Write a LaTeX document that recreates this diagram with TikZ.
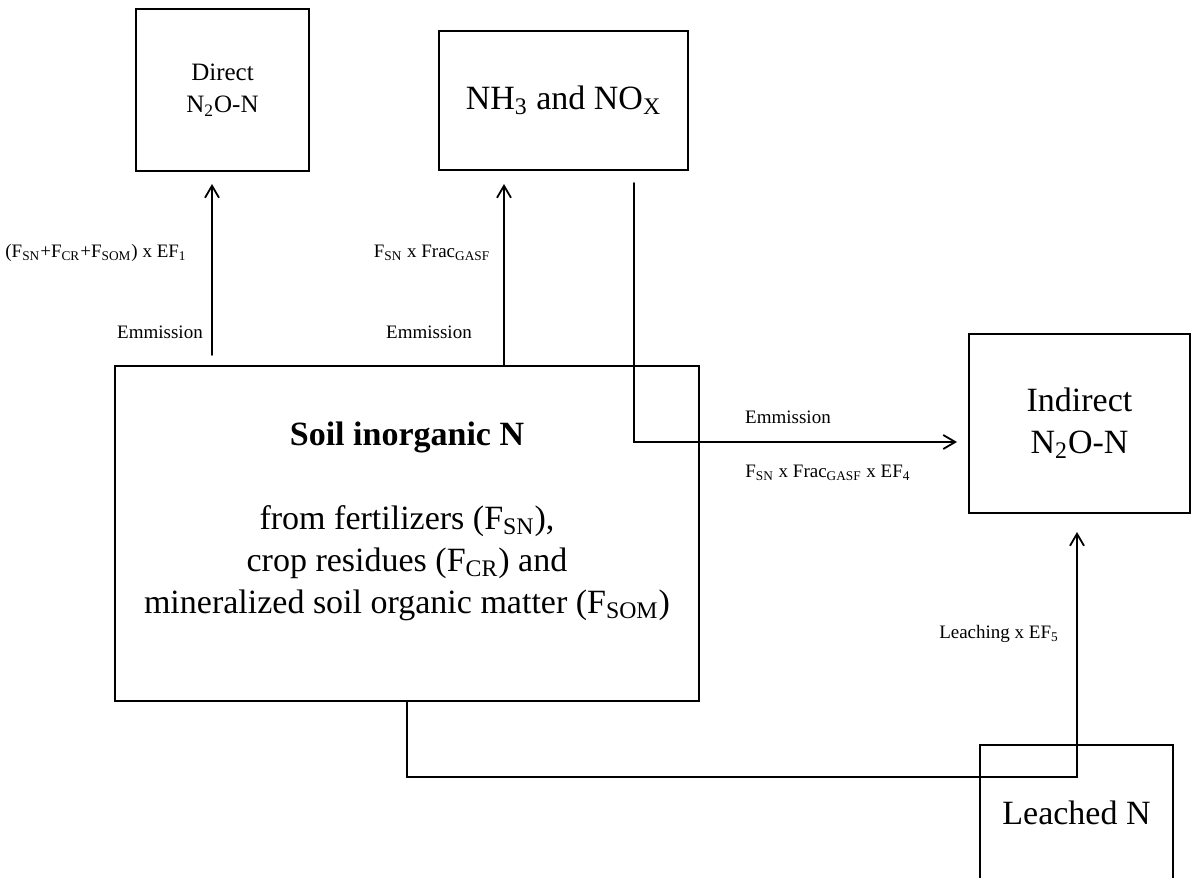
\documentclass[tikz,border=0pt]{standalone}
\usepackage{fontspec}
\setmainfont{Liberation Serif}
\usetikzlibrary{arrows.meta,calc}

\begin{document}
\begin{tikzpicture}[line cap=round,line join=miter,x=0.5pt,y=-0.5pt,
        >={Straight Barb[length=6pt,width=7pt]},
        box/.style={draw,line width=1pt,inner sep=0pt,outer sep=0pt},
        flow/.style={->,line width=0.9pt},
        big/.style={font=\fontsize{17}{21}\selectfont,align=center},
        small/.style={font=\fontsize{9.5}{11}\selectfont,inner sep=0pt}]
                \clip (0,0) rectangle (1191,878);
                % boxes
                \node[box,minimum width=86.5pt,minimum height=81pt,align=center,font=\fontsize{12.5}{16}\selectfont] (direct) at (222.5,90) {Direct\\N\textsubscript{2}O-N};
                \node[box,big,minimum width=124.5pt,minimum height=69.5pt] (nh3) at (563.5,100.5) {NH\textsubscript{3} and NO\textsubscript{X}};
                \node[box,minimum width=292pt,minimum height=167.5pt] (soil) at (407,533.5) {};
                \node[big] (soiltext) at (407,521.5) {\textbf{Soil inorganic N}\\[21pt]from fertilizers (F\textsubscript{SN}),\\crop residues (F\textsubscript{CR}) and\\mineralized soil organic matter (F\textsubscript{SOM})};
                \node[box,big,minimum width=110.5pt,minimum height=89.5pt] (indirect) at (1079.5,423.5) {Indirect\\N\textsubscript{2}O-N};
                \node[box,big,minimum width=96.5pt,minimum height=68pt] (leached) at (1076.5,813) {Leached N};
                % bends of the connectors
                \coordinate (dirx) at (212,355);
                \coordinate (nhx) at (504,0);
                \coordinate (gasx) at (634,442);
                \coordinate (leachx) at (1077,777);
                \draw[flow,shorten >=6.5pt] (dirx) -- (dirx |- direct.south);
                \draw[flow,shorten >=7pt] (nhx |- soil.north) -- (nhx |- nh3.south);
                \draw[flow,shorten <=6.5pt,shorten >=6pt] (gasx |- nh3.south) -- (gasx) -- (gasx -| indirect.west);
                \draw[flow,shorten >=9.5pt] (soil.south) -- (soil.south |- leachx) -- (leachx) -- (leachx |- indirect.south);
                % labels
                \node[small] (ratea) at (96,253) {(F\textsubscript{SN}+F\textsubscript{CR}+F\textsubscript{SOM}) x EF\textsubscript{1}};
                \node[small] (rateb) at (432,253) {F\textsubscript{SN} x Frac\textsubscript{GASF}};
                \node[small] (emma) at (160,332) {Emmission};
                \node[small] (emmb) at (429,332) {Emmission};
                \node[small] (emmc) at (788,417) {Emmission};
                \node[small,anchor=west] (ratec) at (745,473) {F\textsubscript{SN} x Frac\textsubscript{GASF} x EF\textsubscript{4}};
                \node[small] (rated) at (999,634) {Leaching x EF\textsubscript{5}};
\end{tikzpicture}
\end{document}
